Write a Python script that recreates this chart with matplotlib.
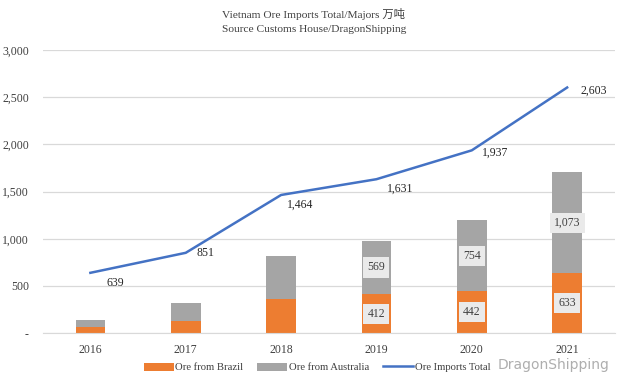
import numpy as np
import matplotlib.pyplot as plt

plt.rcParams['font.family'] = ['Liberation Serif', 'Noto Sans CJK SC']

years = ['2016', '2017', '2018', '2019', '2020', '2021']
brazil = [64, 127, 360, 412, 442, 633]
australia = [74, 194, 456, 569, 754, 1073]
total = [639, 851, 1464, 1631, 1937, 2603]
labelled = [3, 4, 5]  # bars with data labels

orange = '#ED7D31'
gray = '#A5A5A5'
blue = '#4472C4'

fig = plt.figure(figsize=(6.28, 3.82), dpi=100)
ax = fig.add_axes([0.068, 0.128, 0.911, 0.741])

x = np.arange(len(years))
w = 0.31
ax.bar(x, brazil, w, color=orange, label='Ore from Brazil', zorder=2)
ax.bar(x, australia, w, bottom=brazil, color=gray, label='Ore from Australia', zorder=2)
ax.plot(x, total, color=blue, lw=1.8, label='Ore Imports Total', zorder=3)

box = dict(boxstyle='square,pad=0.35', fc='#EAEAEA', ec='none')
for i in labelled:
    ax.text(x[i], brazil[i] / 2, f'{brazil[i]:,}', ha='center', va='center',
            fontsize=8.5, color='#404040', bbox=box, zorder=4)
    ax.text(x[i], brazil[i] + australia[i] / 2, f'{australia[i]:,}', ha='center',
            va='center', fontsize=8.5, color='#404040', bbox=box, zorder=4)

offsets = [(18, -7), (14, 0), (14, -7), (17, -6.5), (17, -1.5), (19, -2)]
for i, v in enumerate(total):
    ax.annotate(f'{v:,}', (x[i], v), xytext=offsets[i], textcoords='offset points',
                ha='center', va='center', fontsize=8.5, color='#262626')

ax.set_xlim(-0.5, len(years) - 0.5)
ax.set_ylim(0, 3000)
ax.set_yticks(np.arange(0, 3001, 500))
ax.set_yticklabels(['-'] + [f'{v:,}' for v in range(500, 3001, 500)])
ax.set_xticks(x)
ax.set_xticklabels(years)
ax.tick_params(length=0, labelsize=8.5, colors='#404040')
ax.tick_params(axis='y', pad=10)
ax.tick_params(axis='x', pad=8)
ax.grid(axis='y', color='#D9D9D9', lw=0.9, zorder=0)
for s in ['top', 'right', 'left']:
    ax.spines[s].set_visible(False)
ax.spines['bottom'].set_color('#D9D9D9')

fig.suptitle('Vietnam Ore Imports Total/Majors 万吨\nSource Customs House/DragonShipping',
             y=0.98, fontsize=8.2, color='#404040', linespacing=1.75)

handles, labels = ax.get_legend_handles_labels()
order = [1, 2, 0]
fig.legend([handles[i] for i in order], [labels[i] for i in order],
           loc='lower center', bbox_to_anchor=(0.505, 0.0), ncol=3, frameon=False,
           fontsize=7.7, handlelength=2.8, handleheight=0.8, columnspacing=1.3,
           labelcolor='#404040', handletextpad=0.15)

fig.text(0.792, 0.045, 'DragonShipping', fontsize=10, color='#9a9a9a',
         family='DejaVu Sans', ha='left', va='center', alpha=0.8)

fig.savefig('out.png', dpi=100)
